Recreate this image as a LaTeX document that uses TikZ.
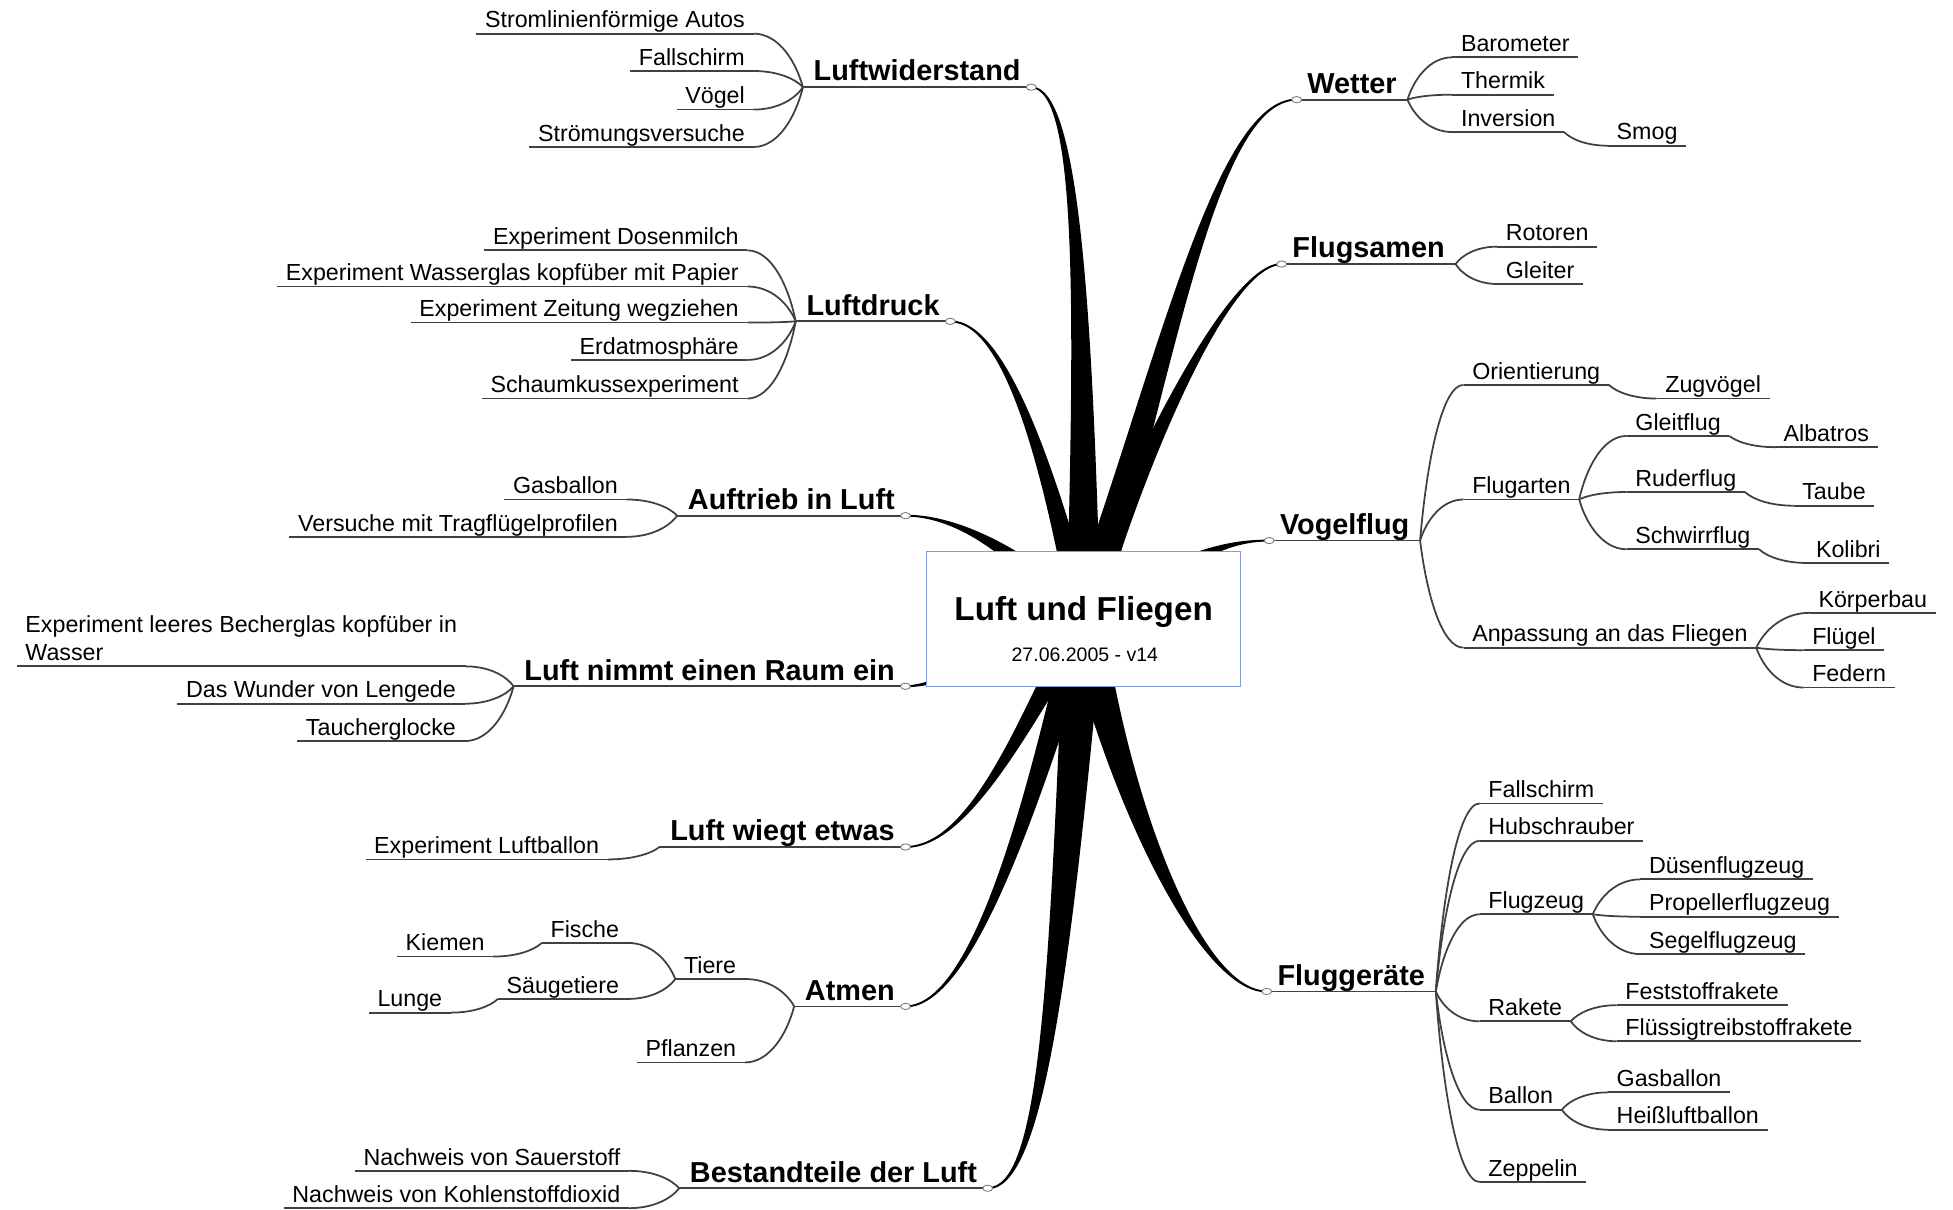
\documentclass[tikz,border=0pt]{standalone}
\usepackage{fontspec}
\setmainfont{Liberation Sans}
\usetikzlibrary{calc}
\definecolor{rootblue}{HTML}{7F9ED6}
\tikzstyle{uline} = [draw=black!75, line width=0.85pt]
\tikzstyle{topic} = [font=\fontsize{13.9}{16}\selectfont\bfseries, inner xsep=5pt, inner ysep=0pt, text height=10.4pt, text depth=2.8pt, append after command={(\tikzlastnode.south west) edge[uline] (\tikzlastnode.south east)}]
\tikzstyle{item} = [font=\fontsize{11.2}{13.2}\selectfont, inner xsep=4pt, inner ysep=0pt, text height=8.5pt, text depth=2.6pt, append after command={(\tikzlastnode.south west) edge[uline] (\tikzlastnode.south east)}]
\tikzstyle{ltopic} = [topic, anchor=south east]
\tikzstyle{rtopic} = [topic, anchor=south west]
\tikzstyle{litem} = [item, anchor=south east]
\tikzstyle{ritem} = [item, anchor=south west]
\tikzstyle{litemtwo} = [font=\fontsize{11.2}{13.2}\selectfont, align=left, inner xsep=4pt, inner ysep=2.6pt, anchor=south east, append after command={(\tikzlastnode.south west) edge[uline] (\tikzlastnode.south east)}]
\tikzstyle{link} = [draw=black!75, line width=0.85pt, to path={let \p1=(\tikztostart), \p2=(\tikztotarget) in .. controls (0.85*\x1+0.15*\x2, 0.5*\y1+0.5*\y2) and (0.5*\x1+0.5*\x2, \y2) .. (\tikztotarget)}]
\tikzstyle{branch} = [fill=black, draw=black, line width=0.9pt, line join=round]
\tikzstyle{knob} = [draw=black!55, fill=white, line width=0.4pt]
\tikzstyle{rootbox} = [rectangle, draw=rootblue, fill=white, line width=0.6pt, minimum width=151.2pt, minimum height=64.8pt, inner sep=0pt, font=\fontsize{16}{19}\selectfont\bfseries, text height=12pt, text depth=10.8pt]
\tikzstyle{datetext} = [font=\fontsize{9.4}{11}\selectfont, anchor=base, inner sep=0pt]
\newcommand{\mmbranch}[5]{\filldraw [branch] ($#1+#5$) .. controls ($#2+0.5*#5$) and #3 .. #4 .. controls #3 and ($#2-0.5*#5$) .. ($#1-#5$) -- cycle;}

\begin{document}
\begin{tikzpicture}[x=0.6pt, y=-0.6pt]

    \useasboundingbox (0,0) rectangle (1568,971);
    \coordinate (hub) at (870,497);

    \node (luftwid) [ltopic] at (828,70) {Luftwiderstand};
    \node (luftdruck) [ltopic] at (763,258) {Luftdruck};
    \node (auftrieb) [ltopic] at (727,414) {Auftrieb in Luft};
    \node (raum) [ltopic] at (727,551) {Luft nimmt einen Raum ein};
    \node (wiegt) [ltopic] at (727,680) {Luft wiegt etwas};
    \node (atmen) [ltopic] at (727,808) {Atmen};
    \node (bestand) [ltopic] at (793,954) {Bestandteile der Luft};
    \node (wetter) [rtopic] at (1041,80) {Wetter};
    \node (flugsamen) [rtopic] at (1029,212) {Flugsamen};
    \node (vogelflug) [rtopic] at (1019,434) {Vogelflug};
    \node (fluggeraete) [rtopic] at (1017,796) {Fluggeräte};

    \node (stromlinie) [litem] at (605,27) {Stromlinienförmige Autos};
    \node (lwschirm) [litem] at (605,57) {Fallschirm};
    \node (voegel) [litem] at (605,88) {Vögel};
    \node (stroemung) [litem] at (605,118) {Strömungsversuche};
    \node (dosen) [litem] at (600,201) {Experiment Dosenmilch};
    \node (wasserglas) [litem] at (600,230) {Experiment Wasserglas kopfüber mit Papier};
    \node (zeitung) [litem] at (600,259) {Experiment Zeitung wegziehen};
    \node (erdatmo) [litem] at (600,289) {Erdatmosphäre};
    \node (schaumkuss) [litem] at (600,320) {Schaumkussexperiment};
    \node (gasballon) [litem] at (503,401) {Gasballon};
    \node (versuche) [litem] at (503,431) {Versuche mit Tragflügelprofilen};
    \node (becher) [litemtwo] at (374,535) {Experiment leeres Becherglas kopfüber in\\Wasser};
    \node (lengede) [litem] at (373,565) {Das Wunder von Lengede};
    \node (taucher) [litem] at (373,595) {Taucherglocke};
    \node (luftballon) [litem] at (488,690) {Experiment Luftballon};
    \node (tiere) [litem] at (598,786) {Tiere};
    \node (pflanzen) [litem] at (598,853) {Pflanzen};
    \node (fische) [litem] at (504,757) {Fische};
    \node (saeuge) [litem] at (504,802) {Säugetiere};
    \node (kiemen) [litem] at (396,768) {Kiemen};
    \node (lunge) [litem] at (362,813) {Lunge};
    \node (sauer) [litem] at (505,940) {Nachweis von Sauerstoff};
    \node (kohlen) [litem] at (505,970) {Nachweis von Kohlenstoffdioxid};

    \node (baro) [ritem] at (1166,46) {Barometer};
    \node (thermik) [ritem] at (1166,76) {Thermik};
    \node (inversion) [ritem] at (1166,106) {Inversion};
    \node (smog) [ritem] at (1291,117) {Smog};
    \node (rotoren) [ritem] at (1202,198) {Rotoren};
    \node (gleiter) [ritem] at (1202,228) {Gleiter};
    \node (orient) [ritem] at (1175,309) {Orientierung};
    \node (zugvoegel) [ritem] at (1330,320) {Zugvögel};
    \node (flugarten) [ritem] at (1175,401) {Flugarten};
    \node (gleitflug) [ritem] at (1306,350) {Gleitflug};
    \node (albatros) [ritem] at (1425,359) {Albatros};
    \node (ruderflug) [ritem] at (1306,395) {Ruderflug};
    \node (taube) [ritem] at (1440,406) {Taube};
    \node (schwirr) [ritem] at (1306,441) {Schwirrflug};
    \node (kolibri) [ritem] at (1451,452) {Kolibri};
    \node (anpassung) [ritem] at (1175,520) {Anpassung an das Fliegen};
    \node (koerper) [ritem] at (1453,492) {Körperbau};
    \node (fluegel) [ritem] at (1448,522) {Flügel};
    \node (federn) [ritem] at (1448,552) {Federn};
    \node (fschirm) [ritem] at (1188,645) {Fallschirm};
    \node (hubschr) [ritem] at (1188,675) {Hubschrauber};
    \node (flugzeug) [ritem] at (1188,734) {Flugzeug};
    \node (duesen) [ritem] at (1317,706) {Düsenflugzeug};
    \node (propeller) [ritem] at (1317,736) {Propellerflugzeug};
    \node (segel) [ritem] at (1317,766) {Segelflugzeug};
    \node (rakete) [ritem] at (1188,820) {Rakete};
    \node (fest) [ritem] at (1298,807) {Feststoffrakete};
    \node (fluessig) [ritem] at (1298,836) {Flüssigtreibstoffrakete};
    \node (ballon) [ritem] at (1188,891) {Ballon};
    \node (gasb) [ritem] at (1291,877) {Gasballon};
    \node (heiss) [ritem] at (1291,907) {Heißluftballon};
    \node (zeppelin) [ritem] at (1188,949) {Zeppelin};

    \foreach \c in {stromlinie, lwschirm, voegel, stroemung}
        \draw [link] (luftwid.south west) to (\c.south east);
    \foreach \c in {dosen, wasserglas, zeitung, erdatmo, schaumkuss}
        \draw [link] (luftdruck.south west) to (\c.south east);
    \foreach \c in {gasballon, versuche}
        \draw [link] (auftrieb.south west) to (\c.south east);
    \foreach \c in {becher, lengede, taucher}
        \draw [link] (raum.south west) to (\c.south east);
    \draw [link] (wiegt.south west) to (luftballon.south east);
    \draw [link] (atmen.south west) to (tiere.south east);
    \draw [link] (atmen.south west) to (pflanzen.south east);
    \draw [link] (tiere.south west) to (fische.south east);
    \draw [link] (tiere.south west) to (saeuge.south east);
    \draw [link] (fische.south west) to (kiemen.south east);
    \draw [link] (saeuge.south west) to (lunge.south east);
    \draw [link] (bestand.south west) to (sauer.south east);
    \draw [link] (bestand.south west) to (kohlen.south east);

    \foreach \c in {baro, thermik, inversion}
        \draw [link] (wetter.south east) to (\c.south west);
    \draw [link] (inversion.south east) to (smog.south west);
    \draw [link] (flugsamen.south east) to (rotoren.south west);
    \draw [link] (flugsamen.south east) to (gleiter.south west);
    \foreach \c in {orient, flugarten, anpassung}
        \draw [link] (vogelflug.south east) to (\c.south west);
    \draw [link] (orient.south east) to (zugvoegel.south west);
    \foreach \c in {gleitflug, ruderflug, schwirr}
        \draw [link] (flugarten.south east) to (\c.south west);
    \draw [link] (gleitflug.south east) to (albatros.south west);
    \draw [link] (ruderflug.south east) to (taube.south west);
    \draw [link] (schwirr.south east) to (kolibri.south west);
    \foreach \c in {koerper, fluegel, federn}
        \draw [link] (anpassung.south east) to (\c.south west);
    \foreach \c in {fschirm, hubschr, flugzeug, rakete, ballon, zeppelin}
        \draw [link] (fluggeraete.south east) to (\c.south west);
    \foreach \c in {duesen, propeller, segel}
        \draw [link] (flugzeug.south east) to (\c.south west);
    \draw [link] (rakete.south east) to (fest.south west);
    \draw [link] (rakete.south east) to (fluessig.south west);
    \draw [link] (ballon.south east) to (gasb.south west);
    \draw [link] (ballon.south east) to (heiss.south west);

    \mmbranch{(hub)}{(870,250)}{(866,71)}{(luftwid.south east)}{(13,0)}
    \mmbranch{(hub)}{(845,390)}{(810,258)}{(luftdruck.south east)}{(10,0)}
    \mmbranch{(hub)}{(820,445)}{(770,414)}{(auftrieb.south east)}{(8,-7)}
    \mmbranch{(hub)}{(780,540)}{(745,551)}{(raum.south east)}{(0,7)}
    \mmbranch{(hub)}{(825,575)}{(780,680)}{(wiegt.south east)}{(11,0)}
    \mmbranch{(hub)}{(835,620)}{(785,808)}{(atmen.south east)}{(12,0)}
    \mmbranch{(hub)}{(850,800)}{(835,954)}{(bestand.south east)}{(15,0)}
    \mmbranch{(hub)}{(935,300)}{(975,80)}{(wetter.south west)}{(14,0)}
    \mmbranch{(hub)}{(910,380)}{(985,212)}{(flugsamen.south west)}{(12,0)}
    \mmbranch{(hub)}{(955,445)}{(985,434)}{(vogelflug.south west)}{(5,8)}
    \mmbranch{(hub)}{(900,650)}{(965,796)}{(fluggeraete.south west)}{(15,0)}

    \node (root) [rootbox] at (hub) {Luft und Fliegen};
    \node (date) [datetext] at (871,531) {27.06.2005 - v14};

    \foreach \n/\a in {luftwid/south east, luftdruck/south east, auftrieb/south east, raum/south east, wiegt/south east, atmen/south east, bestand/south east, wetter/south west, flugsamen/south west, vogelflug/south west, fluggeraete/south west}
        \draw [knob] (\n.\a) ellipse (2.4pt and 1.5pt);

\end{tikzpicture}
\end{document}
